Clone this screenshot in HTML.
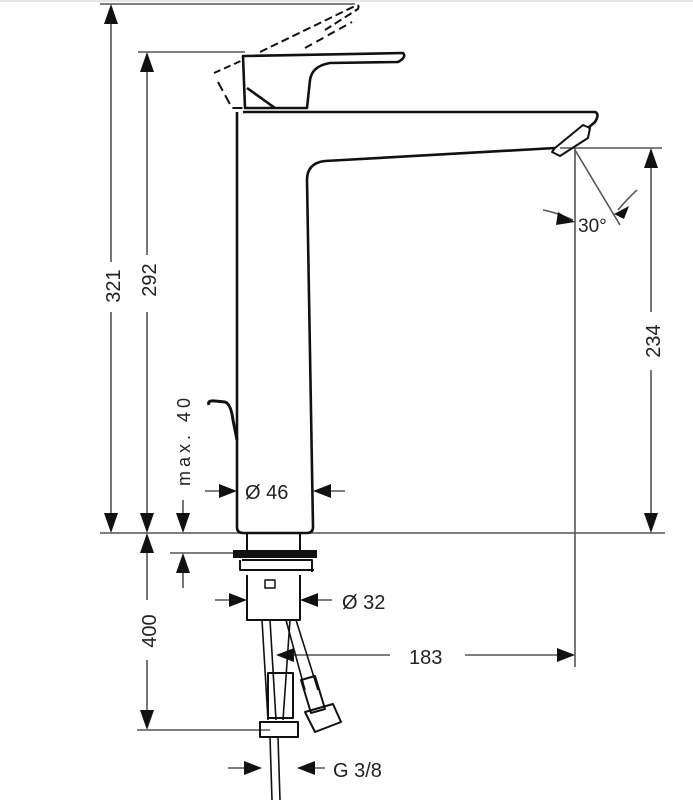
<!DOCTYPE html>
<html><head><meta charset="utf-8"><style>
html,body{margin:0;padding:0;background:#fff}
svg{display:block}
text{font-family:"Liberation Sans",sans-serif;fill:#222}
</style></head><body>
<svg width="693" height="800" viewBox="0 0 693 800" xmlns="http://www.w3.org/2000/svg">
<line x1="0" y1="1" x2="693" y2="1" stroke="#ccc" stroke-width="1"/>
<g stroke="#555" stroke-width="1.6" fill="none">
<line x1="100" y1="4" x2="355" y2="4"/>
<line x1="138" y1="52" x2="245" y2="52"/>
<line x1="100" y1="533" x2="665" y2="533"/>
<line x1="560" y1="148" x2="662" y2="148"/>
<line x1="575" y1="148" x2="575" y2="667"/>
<line x1="170" y1="553" x2="233" y2="553"/>
<line x1="137" y1="730" x2="270" y2="730"/>
<line x1="111" y1="8" x2="111" y2="262"/>
<line x1="111" y1="312" x2="111" y2="530"/>
<line x1="147" y1="56" x2="147" y2="255"/>
<line x1="147" y1="312" x2="147" y2="530"/>
<line x1="651" y1="152" x2="651" y2="312"/>
<line x1="651" y1="370" x2="651" y2="530"/>
<line x1="147" y1="537" x2="147" y2="600"/>
<line x1="147" y1="660" x2="147" y2="727"/>
<line x1="183" y1="500" x2="183" y2="530"/>
<line x1="183" y1="556" x2="183" y2="588"/>
<line x1="465" y1="655" x2="572" y2="655"/>
<line x1="390" y1="655" x2="282" y2="655"/>
<line x1="575" y1="150" x2="620" y2="225"/>
<path d="M543,210 Q555,212 573,220"/>
<path d="M637,190 Q628,198 618,210"/>
<line x1="205" y1="491" x2="234" y2="491"/>
<line x1="345" y1="491" x2="316" y2="491"/>
<line x1="215" y1="600" x2="244" y2="600"/>
<line x1="332" y1="600" x2="303" y2="600"/>
<line x1="228" y1="768" x2="259" y2="768"/>
<line x1="325" y1="768" x2="299" y2="768"/>
</g>
<g fill="#111">
<path d="M111,4 l-7,20 h14z"/>
<path d="M111,533 l-7,-20 h14z"/>
<path d="M147,52 l-7,20 h14z"/>
<path d="M147,533 l-7,-20 h14z"/>
<path d="M147,533 l-7,20 h14z"/>
<path d="M147,730 l-7,-20 h14z"/>
<path d="M651,148 l-7,20 h14z"/>
<path d="M651,533 l-7,-20 h14z"/>
<path d="M183,533 l-7,-20 h14z"/>
<path d="M183,553 l-7,20 h14z"/>
<path d="M237,491 l-18,-7 v14z"/>
<path d="M313,491 l18,-7 v14z"/>
<path d="M247,600 l-18,-7 v14z"/>
<path d="M300,600 l18,-7 v14z"/>
<path d="M262,768 l-18,-7 v14z"/>
<path d="M297,768 l18,-7 v14z"/>
<path d="M575,655 l-18,-7 v14z"/>
<path d="M276,655 l18,-7 v14z"/>
<path d="M575,222 l-17,-10 l-2,13z"/>
<path d="M614,214 l15,-8 l-5,13z"/>
</g>
<g stroke="#111" stroke-width="2.6" fill="none" stroke-linejoin="round">
<path d="M237,112 L237,527 Q237,533 243,533 L307,533 Q313,533 313,527 L307,180 Q307,163 325,161 L555,148"/>
<path d="M243,112 L595,112 Q600,114 595,122 L588,128"/>
<path d="M555,148 L552,152 L560,156 L588,138 L590,128 L583,125 Z" stroke-width="2"/>
<path d="M243,56 L403,53 Q407,57 398,62 L330,63 Q312,66 310,80 L307,108 L245,108 Z"/>
<path d="M247,88 L275,108"/>
<path d="M260,52 L355,6 Q360,4 358,9 L325,30" stroke-dasharray="8,4" stroke-width="2"/>
<path d="M305,48 L352,22" stroke-dasharray="8,5" stroke-width="2"/>
<path d="M214,73 L243,60" stroke-dasharray="7,4" stroke-width="2"/>
<path d="M218,82 L232,108 L245,108" stroke-dasharray="10,5" stroke-width="2"/>
<path d="M209,405 Q207,400 215,401 L225,402 Q231,404 233,420 L237,440" stroke-width="3"/>
<path d="M247,533 V553 M300,533 V553" stroke-width="2"/>
<path d="M242,560 H312 V572 M247,575 V620 H300 V575" stroke-width="2"/>
<path d="M240,560 V570 H314" stroke-width="2"/>
<path d="M265,580 h10 v8 h-10z" stroke-width="1.5"/>
<path d="M262,620 L268,720 M270,620 L276,720 M290,620 L283,720" stroke-width="1.6"/>
<path d="M286,620 L305,690 M296,620 L318,690" stroke-width="1.6"/>
<path d="M268,673 h25 v45 h-25z" stroke-width="2"/>
<path d="M301,680 l14,-4 l10,33 l-14,4z" stroke-width="2"/>
<path d="M260,722 h38 v15 h-38z" stroke-width="2"/>
<path d="M305,712 l28,-8 l8,18 l-26,10z" stroke-width="2"/>
<path d="M270,737 L272,800 M278,737 L280,800" stroke-width="1.6"/>
</g>
<rect x="233" y="550" width="84" height="8" fill="#111"/>
<text font-size="20" transform="translate(120,286) rotate(-90)" text-anchor="middle">321</text>
<text font-size="20" transform="translate(156,280) rotate(-90)" text-anchor="middle">292</text>
<text font-size="20" transform="translate(660,341) rotate(-90)" text-anchor="middle">234</text>
<text font-size="20" transform="translate(156,631) rotate(-90)" text-anchor="middle">400</text>
<text font-size="18" letter-spacing="4" transform="translate(190,440) rotate(-90)" text-anchor="middle">max. 40</text>
<text x="245" y="499" font-size="20">Ø 46</text>
<text x="342" y="609" font-size="20">Ø 32</text>
<text x="409" y="664" font-size="20">183</text>
<text x="333" y="777" font-size="20">G 3/8</text>
<text x="578" y="232" font-size="19">30°</text>
</svg>
</body></html>
